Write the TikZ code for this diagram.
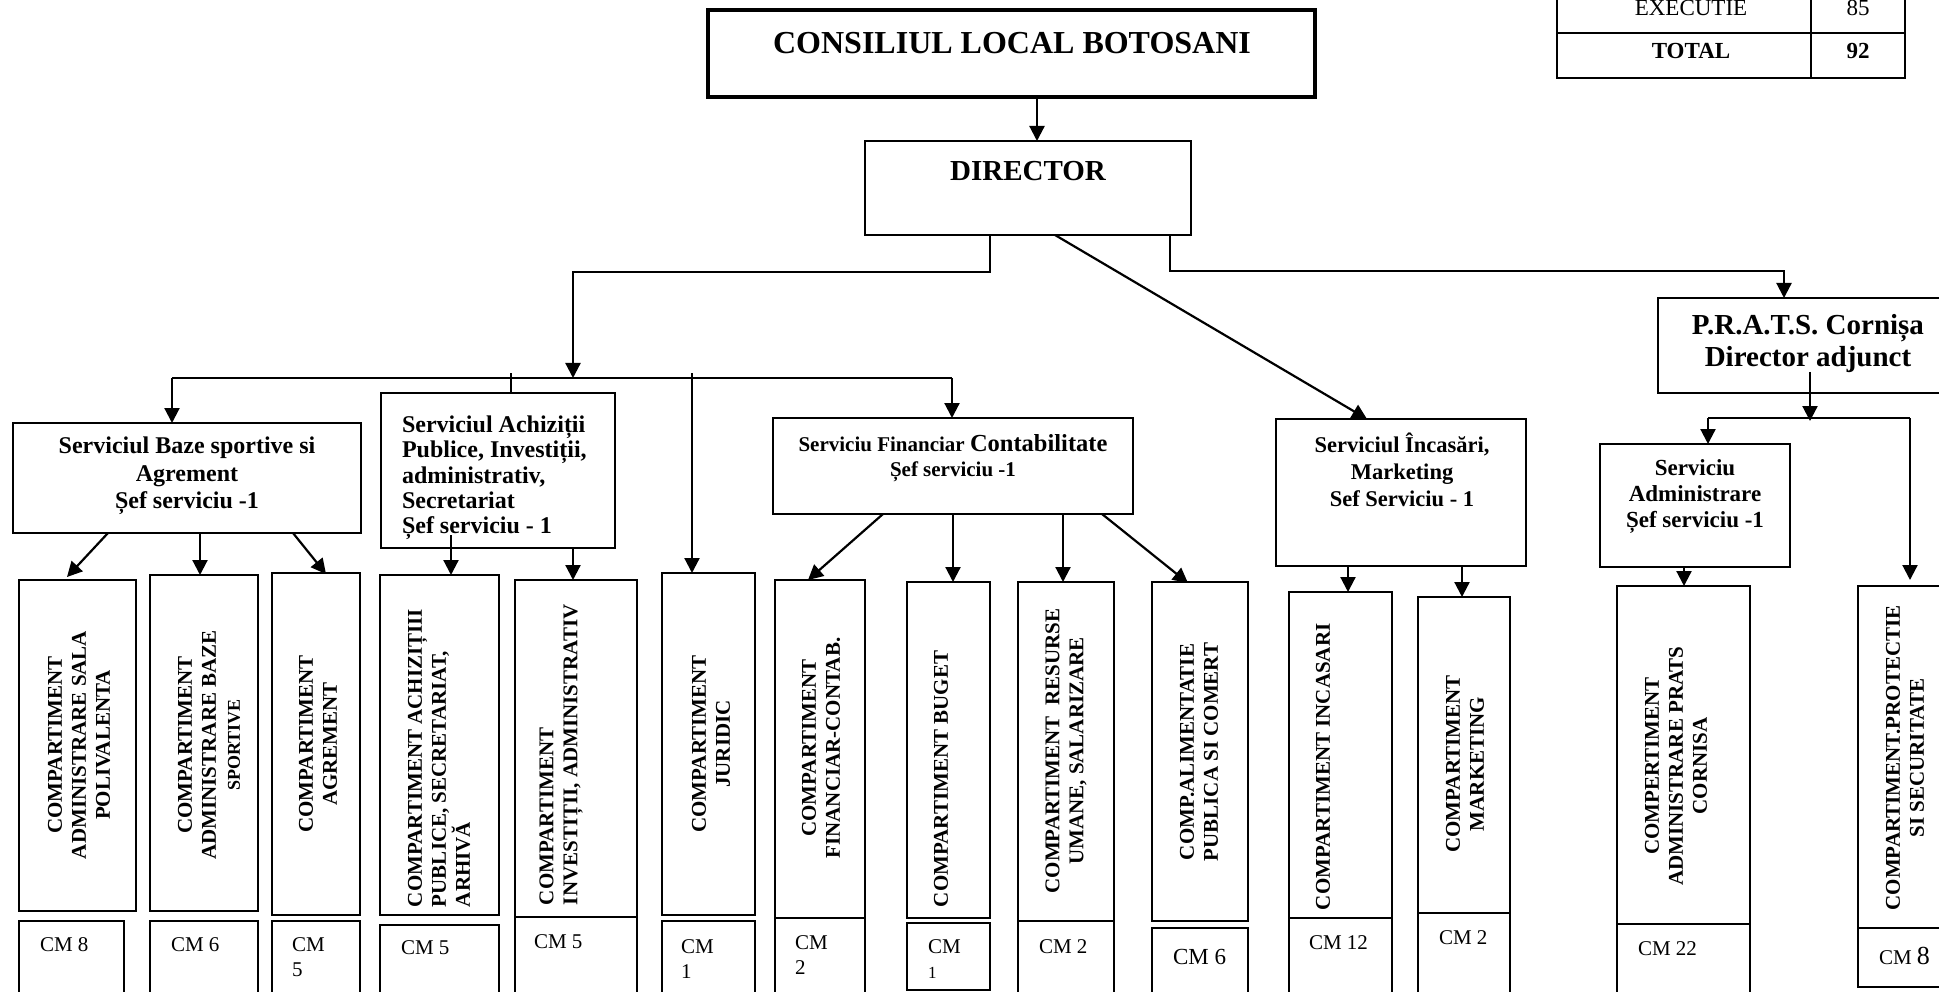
\documentclass[tikz,border=0pt]{standalone}
\usepackage{fontspec}
\setmainfont{Liberation Serif}
\usetikzlibrary{arrows.meta}
\newcommand{\myfs}[2]{\fontsize{#1}{#2}\selectfont}
\newcommand{\mybox}[6][]{%
  \pgfmathsetmacro{\mybw}{#5-#3}%
  \pgfmathsetmacro{\mybh}{#6-#4}%
  \node[box,#1,minimum width=\mybw pt,minimum height=\mybh pt] (#2) at (#3,#4) {};}
\begin{document}
\begin{tikzpicture}[x=1pt,y=-1pt,
  box/.style={draw,line width=2.2pt,rectangle,inner sep=0pt,outer sep=0pt,anchor=north west},
  txt/.style={inner sep=0pt,outer sep=0pt,align=center},
  vtxt/.style={inner sep=0pt,outer sep=0pt,rotate=90,align=center,font=\myfs{21}{24}\bfseries},
  cmt/.style={inner sep=0pt,outer sep=0pt,anchor=west,align=left,font=\myfs{21}{25}},
  link/.style={line width=2.2pt},
  conn/.style={line width=2.2pt,-{Triangle[length=15pt,width=15pt]}},
]
\useasboundingbox (0,0) rectangle (1939,992);
\clip (0,0) rectangle (1939,992);

% ---------- table ----------
\mybox{tA}{1557}{-10}{1811}{33}
\mybox{tB}{1811}{-10}{1905}{33}
\mybox{tC}{1557}{33}{1811}{78}
\mybox{tD}{1811}{33}{1905}{78}
\node[txt,font=\myfs{23}{25}] (tAt) at (1691,8) {EXECUTIE};
\node[txt,font=\myfs{23}{25}] (tBt) at (1858,8) {85};
\node[txt,font=\myfs{23}{25}\bfseries] (tCt) at (1691,51) {TOTAL};
\node[txt,font=\myfs{23}{25}\bfseries] (tDt) at (1858,51) {92};

% ---------- top ----------
\mybox[line width=4pt]{cons}{708}{10}{1315}{97}
\node[txt,font=\myfs{32}{36}\bfseries] (consT) at (1012,43) {CONSILIUL LOCAL BOTOSANI};
\mybox{dir}{865}{141}{1191}{235}
\node[txt,font=\myfs{29}{32}\bfseries] (dirT) at (1028,171) {DIRECTOR};
\mybox{prats}{1658}{298}{1960}{393}
\node[txt,font=\myfs{29}{32}\bfseries] (pratsT) at (1808,344) {P.R.A.T.S. Cornișa\\Director adjunct};

% ---------- services ----------
\mybox{baze}{13}{423}{361}{533}
\node[txt,font=\myfs{24}{27.5}\bfseries] (bazeT) at (187,476) {Serviciul Baze sportive si\\Agrement\\Șef serviciu -1};
\mybox{ach}{381}{393}{615}{548}
\node[txt,anchor=west,align=left,font=\myfs{24}{25.3}\bfseries] (achT) at (402,478) {Serviciul Achiziții\\Publice, Investiții,\\administrativ,\\Secretariat\\Șef serviciu - 1};
\mybox{fin}{773}{418}{1133}{514}
\node[txt,font=\myfs{21}{25}\bfseries] (finT) at (953,458) {Serviciu Financiar {\myfs{24.5}{25}Contabilitate}\\Șef serviciu -1};
\mybox{inc}{1276}{419}{1526}{566}
\node[txt,font=\myfs{22.5}{27}\bfseries] (incT) at (1402,470) {Serviciul Încasări,\\Marketing\\Sef Serviciu - 1};
\mybox{adm}{1600}{444}{1790}{567}
\node[txt,font=\myfs{23}{26}\bfseries] (admT) at (1695,496) {Serviciu\\Administrare\\Șef serviciu -1};

% ---------- compartments ----------
\mybox{c1}{19}{580}{136}{911}
\mybox{c2}{150}{575}{258}{911}
\mybox{c3}{272}{573}{360}{915}
\mybox{c4}{380}{575}{499}{915}
\mybox{c5}{515}{580}{637}{917}
\mybox{c6}{662}{573}{755}{915}
\mybox{c7}{775}{580}{865}{918}
\mybox{c8}{907}{582}{990}{918}
\mybox{c9}{1018}{582}{1114}{921}
\mybox{c10}{1152}{582}{1248}{921}
\mybox{c11}{1289}{592}{1392}{918}
\mybox{c12}{1418}{597}{1510}{913}
\mybox{c13}{1617}{586}{1750}{924}
\mybox{c14}{1858}{586}{1960}{928}

\node[vtxt] (c1t) at (79,745) {COMPARTIMENT\\ADMINISTRARE SALA\\POLIVALENTA};
\node[vtxt] (c2t) at (209,745) {COMPARTIMENT\\ADMINISTRARE BAZE\\{\myfs{18}{20}SPORTIVE}};
\node[vtxt] (c3t) at (318,744) {COMPARTIMENT\\AGREMENT};
\node[vtxt,anchor=west,align=left] (c4t) at (439,907) {COMPARTIMENT ACHIZIȚIII\\PUBLICE, SECRETARIAT,\\ARHIVĂ};
\node[vtxt,anchor=west,align=left] (c5t) at (561,905) {COMPARTIMENT\\INVESTIȚII, ADMINISTRATIV};
\node[vtxt] (c6t) at (711,744) {COMPARTIMENT\\JURIDIC};
\node[vtxt] (c7t) at (821,748) {COMPARTIMENT\\FINANCIAR-CONTAB.};
\node[vtxt,anchor=west,align=left] (c8t) at (941,907) {COMPARTIMENT BUGET};
\node[vtxt] (c9t) at (1066,751) {COMPARTIMENT~~RESURSE\\UMANE, SALARIZARE};
\node[vtxt] (c10t) at (1199,752) {COMP.ALIMENTATIE\\PUBLICA SI COMERT};
\node[vtxt,anchor=west,align=left] (c11t) at (1323,910) {COMPARTIMENT INCASARI};
\node[vtxt] (c12t) at (1465,764) {COMPARTIMENT\\MARKETING};
\node[vtxt] (c13t) at (1676,766) {COMPERTIMENT\\ADMINISTRARE PRATS\\CORNISA};
\node[vtxt] (c14t) at (1905,758) {COMPARTIMENT.PROTECTIE\\SI SECURITATE};

% ---------- CM boxes ----------
\mybox{m1}{19}{921}{124}{1000}
\mybox{m2}{150}{921}{258}{1000}
\mybox{m3}{272}{921}{360}{1000}
\mybox{m4}{380}{925}{499}{1000}
\mybox{m5}{515}{917}{637}{1000}
\mybox{m6}{662}{921}{755}{1000}
\mybox{m7}{775}{918}{865}{1000}
\mybox{m8}{907}{923}{990}{990}
\mybox{m9}{1018}{921}{1114}{1000}
\mybox{m10}{1152}{928}{1248}{1000}
\mybox{m11}{1289}{918}{1392}{1000}
\mybox{m12}{1418}{913}{1510}{1000}
\mybox{m13}{1617}{924}{1750}{1000}
\mybox{m14}{1858}{928}{1960}{987}

\node[cmt] (m1t) at (40,945) {CM 8};
\node[cmt] (m2t) at (171,945) {CM 6};
\node[cmt] (m3t) at (292,957) {CM\\5};
\node[cmt] (m4t) at (401,948) {CM 5};
\node[cmt] (m5t) at (534,942) {CM 5};
\node[cmt] (m6t) at (681,959) {CM\\1};
\node[cmt] (m7t) at (795,955) {CM\\2};
\node[cmt] (m8t) at (928,959) {CM\\{\myfs{17}{20}1}};
\node[cmt] (m9t) at (1039,947) {CM 2};
\node[cmt,font=\myfs{23}{25}] (m10t) at (1173,957) {CM 6};
\node[cmt] (m11t) at (1309,943) {CM 12};
\node[cmt] (m12t) at (1439,938) {CM 2};
\node[cmt] (m13t) at (1638,949) {CM 22};
\node[cmt] (m14t) at (1879,956) {CM {\myfs{26}{26}8}};

% ---------- connectors ----------
\coordinate (busL) at (172,378);
\coordinate (busR) at (952,378);
\draw[conn] (1037,0 |- cons.south) -- (1037,0 |- dir.north);
\draw[conn] (990,0 |- dir.south) |- (573,272) -- (573,0 |- busL);
\draw[link] (busL) -- (busR);
\draw[conn] (busL) -- (172,0 |- baze.north);
\draw[link] (511,373) -- (511,0 |- ach.north);
\draw[conn] (692,373) -- (692,0 |- c6.north);
\draw[conn] (busR) -- (952,0 |- fin.north);
\draw[conn] (1170,0 |- dir.south) |- (1784,271) -- (1784,0 |- prats.north);
\draw[conn] (1055,0 |- dir.south) -- (1367,0 |- inc.north);

\draw[conn] (108,0 |- baze.south) -- (67,577);
\draw[conn] (200,0 |- baze.south) -- (200,0 |- c2.north);
\draw[conn] (293,0 |- baze.south) -- (326,574);

\draw[conn] (451,535) -- (451,0 |- c4.north);
\draw[conn] (573,0 |- ach.south) -- (573,0 |- c5.north);

\draw[conn] (883,0 |- fin.south) -- (808,580);
\draw[conn] (953,0 |- fin.south) -- (953,0 |- c8.north);
\draw[conn] (1063,0 |- fin.south) -- (1063,0 |- c9.north);
\draw[conn] (1102,0 |- fin.south) -- (1188,583);

\draw[conn] (1348,0 |- inc.south) -- (1348,0 |- c11.north);
\draw[conn] (1462,0 |- inc.south) -- (1462,0 |- c12.north);

\coordinate (pL) at (1708,418);
\coordinate (pR) at (1910,418);
\draw[conn] (1810,372) -- (1810,421);
\draw[link] (pL) -- (pR);
\draw[conn] (pL) -- (1708,0 |- adm.north);
\draw[conn] (pR) -- (1910,580);
\draw[conn] (1684,0 |- adm.south) -- (1684,0 |- c13.north);
\end{tikzpicture}
\end{document}
